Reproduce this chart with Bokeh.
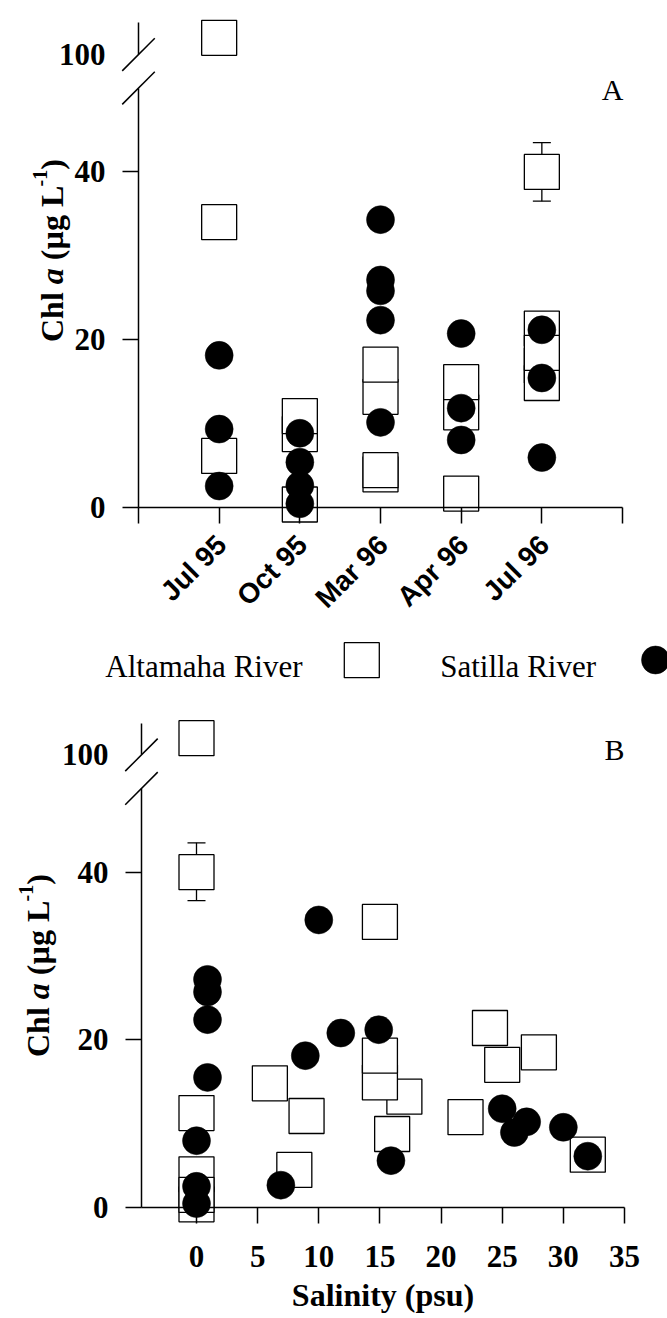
import math
from bokeh.plotting import figure
from bokeh.models import (ColumnDataSource, FixedTicker, LinearAxis, Range1d,
                          Label, Whisker, TeeHead)
from bokeh.layouts import column
from bokeh.embed import file_html
from bokeh.resources import INLINE
from bokeh.core.properties import value

# ---------------- data ----------------
dates = ["Jul 95", "Oct 95", "Mar 96", "Apr 96", "Jul 96"]

# Panel A - Altamaha River (squares), Chl a by sampling date
alt_a_date = ["Jul 95", "Jul 95", "Jul 95",
              "Oct 95", "Oct 95", "Oct 95",
              "Mar 96", "Mar 96", "Mar 96", "Mar 96",
              "Apr 96", "Apr 96", "Apr 96",
              "Jul 96", "Jul 96", "Jul 96", "Jul 96", "Jul 96"]
alt_a_chl = [105, 34.0, 6.1,
             8.7, 10.85, 0.3,
             13.15, 17.0, 3.9, 4.4,
             11.3, 14.9, 1.6,
             40.0, 16.9, 21.3, 14.8, 18.4]
alt_a_err_date = ["Jul 96"]
alt_a_err_low = [36.5]
alt_a_err_high = [43.5]

# Panel A - Satilla River (circles)
sat_a_date = ["Jul 95", "Jul 95", "Jul 95",
              "Oct 95", "Oct 95", "Oct 95", "Oct 95",
              "Mar 96", "Mar 96", "Mar 96", "Mar 96", "Mar 96",
              "Apr 96", "Apr 96", "Apr 96",
              "Jul 96", "Jul 96", "Jul 96"]
sat_a_chl = [18.1, 9.3, 2.5,
             8.8, 5.35, 2.57, 0.38,
             34.3, 27.1, 25.8, 22.3, 10.1,
             20.7, 11.8, 8.0,
             21.15, 15.4, 5.9]

# Panel B - Altamaha River vs salinity
alt_b_sal = [0, 0, 0, 0, 0, 0, 6, 9, 8, 15, 17, 15, 15, 16, 22, 24, 25, 28, 32]
alt_b_chl = [105, 40.0, 11.25, 0.36, 3.94, 1.48, 14.8, 10.9, 4.46, 34.06,
             13.2, 14.9, 18.1, 8.75, 10.76, 21.4, 17.0, 18.5, 6.28]
alt_b_err_sal = [0]
alt_b_err_low = [36.6]
alt_b_err_high = [43.5]

# Panel B - Satilla River vs salinity
sat_b_sal = [10, 0.9, 0.9, 0.9, 0.9, 0, 0, 0, 6.9, 8.9, 11.8, 14.9, 15.9,
             25, 26, 27, 30, 32]
sat_b_chl = [34.3, 27.2, 25.7, 22.4, 15.5, 7.95, 2.5, 0.44, 2.64, 18.1, 20.8,
             21.2, 5.57, 11.77, 8.93, 10.2, 9.55, 6.1]

sal_ticks = [0, 5, 10, 15, 20, 25, 30, 35]
y_ticks = [0, 20, 40]
legend_labels = ["Altamaha River", "Satilla River"]

# ---------------- broken y axis ----------------
BREAK_LOW, BREAK_HIGH, AXIS_TOP = 50, 54, 57.8


def broken(v):
    return v if v < BREAK_LOW else BREAK_HIGH + (v - 100) * 0.4


K = 8.378          # px per chl unit
SERIF = "Liberation Serif"
SANS = "Liberation Sans"
W = 667


def base_fig(height, xr, yr):
    p = figure(width=W, height=height, x_range=Range1d(*xr), y_range=Range1d(*yr),
               toolbar_location=None, output_backend="svg", min_border=0)
    p.outline_line_color = None
    p.xgrid.visible = False
    p.ygrid.visible = False
    p.background_fill_color = "white"
    p.border_fill_color = "white"
    return p


def style_tick_labels(ax, font, size, style="bold"):
    ax.major_label_text_font = font
    ax.major_label_text_font_size = size
    ax.major_label_text_font_style = style
    ax.major_label_text_color = "black"


def add_y_axes(p, x_loc):
    ax = p.yaxis[0]
    ax.fixed_location = x_loc
    ax.bounds = (0, BREAK_LOW)
    ax.ticker = FixedTicker(ticks=y_ticks)
    ax.axis_line_width = 1.5
    ax.axis_line_color = "black"
    ax.major_tick_in = 0
    ax.major_tick_out = 16
    ax.major_tick_line_width = 1.5
    ax.minor_tick_line_color = None
    ax.major_label_standoff = 17
    style_tick_labels(ax, SERIF, "31px")

    top = LinearAxis(fixed_location=x_loc, bounds=(BREAK_HIGH, AXIS_TOP),
                     ticker=FixedTicker(ticks=[broken(100)]),
                     major_label_overrides={broken(100): "100"})
    top.axis_line_width = 1.5
    top.major_tick_in = 0
    top.major_tick_out = 0
    top.major_tick_line_color = None
    top.minor_tick_line_color = None
    top.major_label_standoff = 33
    style_tick_labels(top, SERIF, "31px")
    p.add_layout(top, "left")

    # axis-break slashes
    p.scatter(x=[x_loc, x_loc], y=[BREAK_LOW, BREAK_HIGH], marker="dash", size=46,
              angle=math.pi / 4, line_color="black", line_width=1.5)


def add_ylabel(p, x_base, y_center, px_per_x):
    # (text, style, size px, raise px, advance px)
    pieces = [("Chl", "bold", 32, 0, 57.8),
              ("a", "bold italic", 32, 0, 24.0),
              ("(µg L", "bold", 32, 0, 73.8),
              ("-1", "bold", 20, 12, 16.7),
              (")", "bold", 32, 0, 10.7)]
    total = sum(pc[4] for pc in pieces)
    y = y_center - total / 2 / K
    for txt, style, size, rz, adv in pieces:
        p.add_layout(Label(x=x_base - rz / px_per_x, y=y, text=txt, angle=math.pi / 2,
                           text_align="left", text_baseline="alphabetic",
                           text_font=SERIF, text_font_style=style,
                           text_font_size=f"{size}px", text_color="black"))
        y += adv / K


def draw_points(p, ax_x, ay, sx, sy, ex, elo, ehi):
    esrc = ColumnDataSource(dict(x=ex, lo=[broken(v) for v in elo],
                                 hi=[broken(v) for v in ehi]))
    p.add_layout(Whisker(source=esrc, base="x", lower="lo", upper="hi", dimension="height",
                         line_width=1.3, line_color="black",
                         lower_head=TeeHead(size=18, line_width=1.3, line_color="black"),
                         upper_head=TeeHead(size=18, line_width=1.3, line_color="black")))
    p.scatter(x=ax_x, y=[broken(v) for v in ay], marker="square", size=35,
              fill_color="white", line_color="black", line_width=1.3)
    p.scatter(x=sx, y=[broken(v) for v in sy], marker="circle", size=28,
              fill_color="black", line_color="black", line_width=0.5)


# ---------------- Panel A (page y 0..640) ----------------
A_H = 640
A_PXX, A_X0PX, A_Y0PX = 80.67, 138.0, 506.5   # px per date step, page x of x=0, page y of chl 0
pa = base_fig(A_H, (-A_X0PX / A_PXX, (W - A_X0PX) / A_PXX),
              ((A_Y0PX - A_H) / K, A_Y0PX / K))

pos = {d: i + 1 for i, d in enumerate(dates)}
LABEL_SHIFT = 0.03
label_ticks = [pos[d] + LABEL_SHIFT for d in dates]
xa = pa.xaxis[0]
xa.fixed_location = 0
xa.bounds = (0, len(dates) + 1)
xa.ticker = FixedTicker(ticks=label_ticks, minor_ticks=list(range(len(dates) + 2)))
xa.major_label_overrides = {t: d for t, d in zip(label_ticks, dates)}
xa.axis_line_width = 1.5
xa.major_tick_in = 0
xa.major_tick_out = 0
xa.major_tick_line_color = None
xa.minor_tick_in = 0
xa.minor_tick_out = 16
xa.minor_tick_line_width = 1.5
xa.minor_tick_line_color = "black"
xa.major_label_orientation = math.pi / 4
xa.major_label_standoff = 17
style_tick_labels(xa, SANS, "28px")

add_y_axes(pa, 0)
add_ylabel(pa, (51.5 - A_X0PX) / A_PXX, (A_Y0PX - 250) / K, A_PXX)
draw_points(pa, [pos[d] for d in alt_a_date], alt_a_chl,
            [pos[d] for d in sat_a_date], sat_a_chl,
            [pos[d] for d in alt_a_err_date], alt_a_err_low, alt_a_err_high)
pa.add_layout(Label(x=(612 - A_X0PX) / A_PXX, y=(A_Y0PX - 89) / K, text="A",
                    text_align="center", text_baseline="middle", text_font=SERIF,
                    text_font_size="30px", text_color="black"))

# ---------------- Legend (page y 640..700) ----------------
pl = figure(width=W, height=60, x_range=Range1d(0, W), y_range=Range1d(60, 0),
            x_axis_type=None, y_axis_type=None, toolbar_location=None,
            output_backend="svg", min_border=0)
pl.outline_line_color = None
pl.xgrid.visible = False
pl.ygrid.visible = False
pl.text(x=[302, 595.5], y=[26, 26], text=legend_labels, text_align="right",
        text_baseline="alphabetic", text_font=value(SERIF), text_font_size="31px",
        text_color="black")
pl.scatter(x=[361.3], y=[19.7], marker="square", size=35, fill_color="white",
           line_color="black", line_width=1.3)
pl.scatter(x=[655], y=[19.5], marker="circle", size=28, fill_color="black",
           line_color="black", line_width=0.5)

# ---------------- Panel B (page y 700..1318) ----------------
B_H = 618
B_PXX, B_X0PX, B_Y0PX = 12.228, 196.0, 506.8   # px per psu, x of sal 0, y of chl 0 (figure coords)
pb = base_fig(B_H, (-B_X0PX / B_PXX, (W - B_X0PX) / B_PXX),
              ((B_Y0PX - B_H) / K, B_Y0PX / K))

xb = pb.xaxis[0]
xb.fixed_location = 0
xb.bounds = (-4.5, 35)
xb.ticker = FixedTicker(ticks=sal_ticks)
xb.axis_line_width = 1.5
xb.major_tick_in = 0
xb.major_tick_out = 16
xb.major_tick_line_width = 1.5
xb.minor_tick_line_color = None
xb.major_label_standoff = 23
style_tick_labels(xb, SERIF, "31px")
xb.axis_label = "Salinity (psu)"
xb.axis_label_text_font = SERIF
xb.axis_label_text_font_style = "bold"
xb.axis_label_text_font_size = "32px"
xb.axis_label_text_color = "black"
xb.axis_label_standoff = 6

add_y_axes(pb, -4.5)
add_ylabel(pb, (37 - B_X0PX) / B_PXX, (B_Y0PX - 265) / K, B_PXX)
draw_points(pb, alt_b_sal, alt_b_chl, sat_b_sal, sat_b_chl,
            alt_b_err_sal, alt_b_err_low, alt_b_err_high)
pb.add_layout(Label(x=(614 - B_X0PX) / B_PXX, y=(B_Y0PX - 49) / K, text="B",
                    text_align="center", text_baseline="middle", text_font=SERIF,
                    text_font_size="30px", text_color="black"))

layout = column(pa, pl, pb, spacing=0)
open("out.html", "w").write(file_html(layout, INLINE))
